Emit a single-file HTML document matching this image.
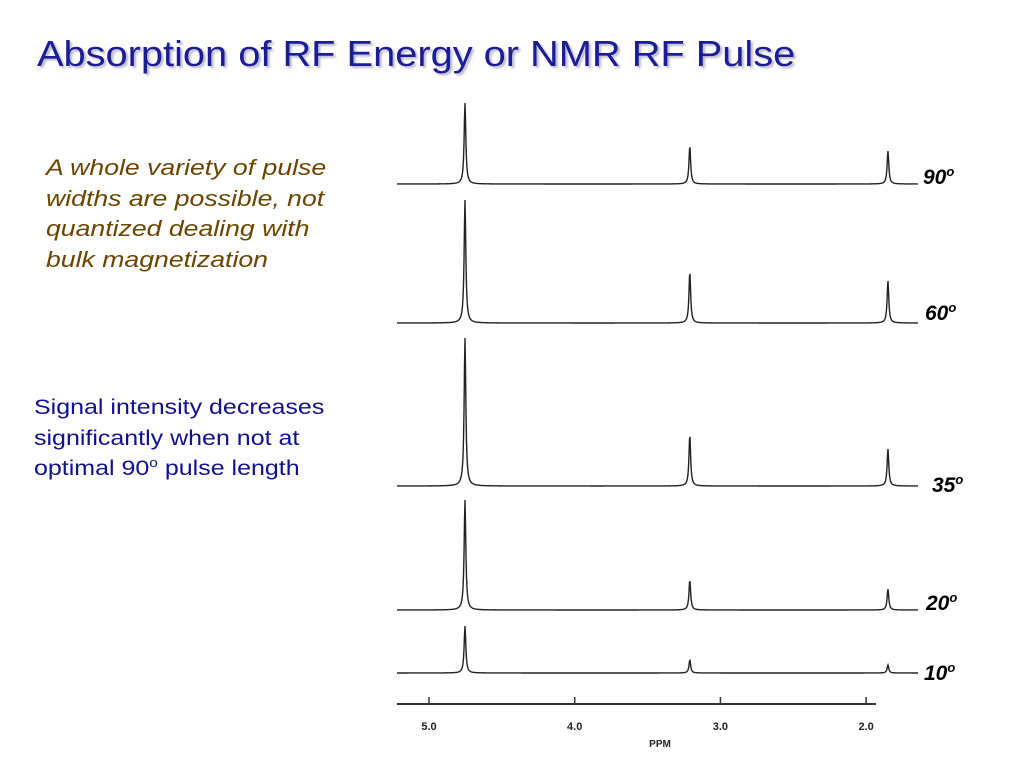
<!DOCTYPE html>
<html><head><meta charset="utf-8"><style>
body{margin:0;width:1024px;height:768px;background:#fff;position:relative;overflow:hidden;font-family:"Liberation Sans",sans-serif}
.t{position:absolute;white-space:nowrap;transform-origin:0 0}
sup{line-height:0;vertical-align:0;position:relative;top:-0.6em}
</style></head><body>
<div class="t" style="left:37px;top:33px;font-size:36px;color:#1c1c96;text-shadow:2px 2px 2px #b8b8c8;transform:scaleX(1.105)">Absorption of RF Energy or NMR RF Pulse</div>
<div class="t" style="left:46px;top:153px;font-size:22px;line-height:30.5px;font-style:italic;color:#6b4400;transform:scaleX(1.21)">A whole variety of pulse<br>widths are possible, not<br>quantized dealing with<br>bulk magnetization</div>
<div class="t" style="left:34px;top:393px;font-size:21px;line-height:30.5px;color:#101090;transform:scaleX(1.19)">Signal intensity decreases<br>significantly when not at<br>optimal 90<sup style="font-size:13px">o</sup> pulse length</div>
<svg id="chart" width="1024" height="768" style="position:absolute;left:0;top:0"></svg>
<script>
const angles=["90","60","35","20","10"];
const baselines=[184,323,486,610,673];
const peakPpm=[4.753,3.21,1.85];
const heights90=[81,38,33];
const heights60=[123,51,42];
const heights35=[148,51,37];
const heights20=[110,30,21];
const heights10=[47,13,8];
const ticks=[5.0,4.0,3.0,2.0];
const tickLabels=["5.0","4.0","3.0","2.0"];
const allHeights=[heights90,heights60,heights35,heights20,heights10];
const labelPos=[[923,184],[925,320],[932,492],[926,610],[924,680]];
const NS="http://www.w3.org/2000/svg";
const svg=document.getElementById('chart');
function x(p){return 429+(5-p)*145.7;}
function mk(t,a){const e=document.createElementNS(NS,t);for(const k in a)e.setAttribute(k,a[k]);svg.appendChild(e);return e;}
allHeights.forEach((hs,i)=>{
  const b=baselines[i];let d="";
  for(let px=397;px<=918;px+=0.5){
    let y=0;hs.forEach((h,j)=>{const dx=px-x(peakPpm[j]);const g=1.0;y+=h*g*g/(dx*dx+g*g);});
    d+=(d?"L":"M")+px+","+(b-y).toFixed(2);
  }
  const p=mk('path',{d:d,fill:'none',stroke:'#222','stroke-width':1.4});
  
  
  const t=mk('text',{x:labelPos[i][0],y:labelPos[i][1],'font-size':21,'font-weight':'bold','font-style':'italic','font-family':'Liberation Sans, sans-serif'});
  
  
  t.innerHTML=angles[i]+'<tspan dy="-8" font-size="13">o</tspan>';
});
const ax=mk('line',{x1:397,x2:876,y1:704,y2:704,stroke:'#333','stroke-width':2});


ticks.forEach((v,i)=>{
  const l=mk('line',{x1:x(v),x2:x(v),y1:697,y2:704,stroke:'#333','stroke-width':1.5});
  
  
  const t=mk('text',{x:x(v),y:730,'text-anchor':'middle','font-size':11,'font-weight':'bold','font-family':'Liberation Sans, sans-serif',fill:'#222'});
  
  
  t.textContent=tickLabels[i];
});
const xt=mk('text',{x:660,y:747,'text-anchor':'middle','font-size':10,'font-weight':'bold','font-family':'Liberation Sans, sans-serif',fill:'#222'});


xt.textContent='PPM';
</script>
</body></html>
